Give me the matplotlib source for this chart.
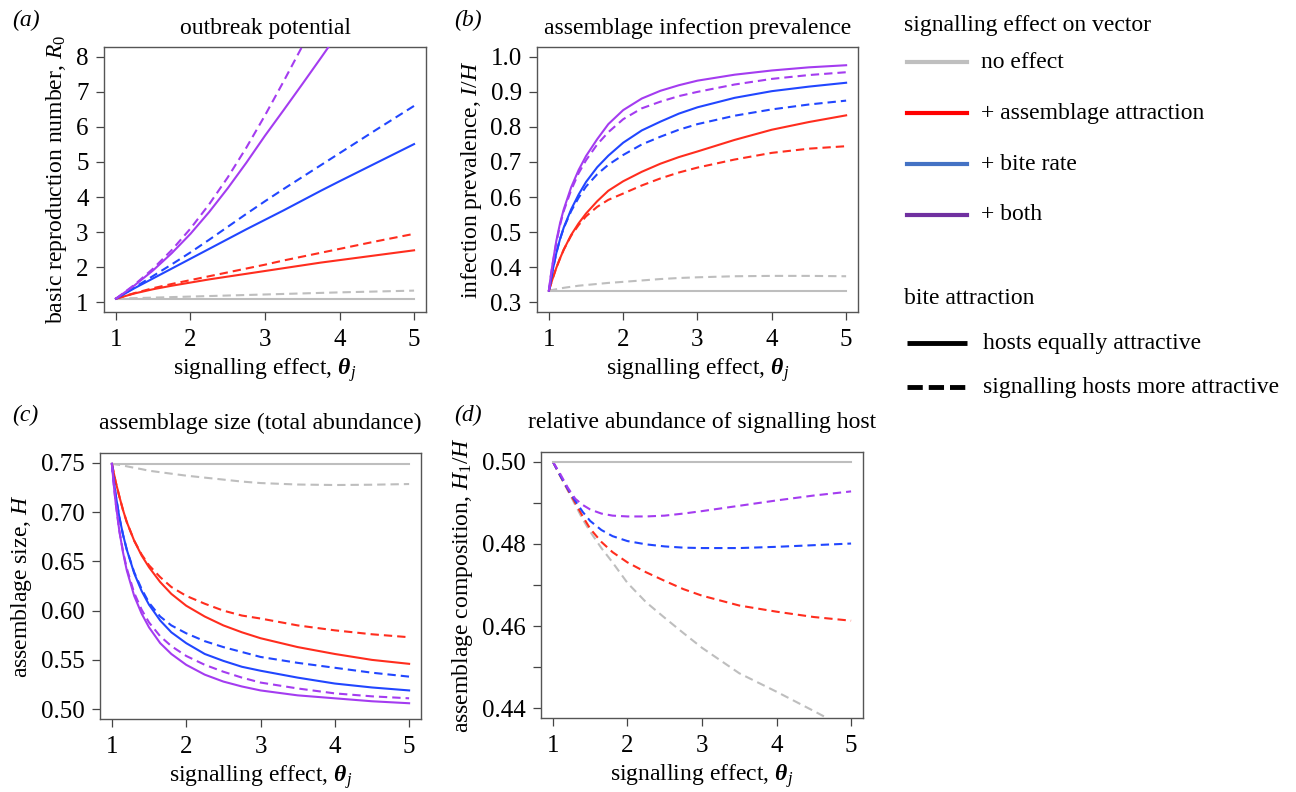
import matplotlib
matplotlib.use("Agg")
import matplotlib.pyplot as plt
from matplotlib.lines import Line2D

plt.rcParams['font.family'] = ['Liberation Serif', 'DejaVu Serif']
plt.rcParams['mathtext.fontset'] = 'custom'
plt.rcParams['mathtext.rm'] = 'Liberation Serif'
plt.rcParams['mathtext.it'] = 'Liberation Serif:italic'
plt.rcParams['mathtext.bf'] = 'Liberation Serif:bold:italic'
plt.rcParams['lines.scale_dashes'] = False

# ---- data ----
# (a) basic reproduction number R0
theta_a = [1, 1.25, 1.5, 1.75, 2, 2.25, 2.5, 2.75, 3, 3.25, 3.5, 3.75, 4, 4.5, 5]
r0_grey_solid = [1.1] * 15
r0_grey_dash = [1.1, 1.115, 1.13, 1.145, 1.16, 1.175, 1.19, 1.205, 1.22, 1.235,
                1.25, 1.265, 1.28, 1.305, 1.33]
r0_red_solid = [1.1, 1.25, 1.37, 1.47, 1.56, 1.65, 1.73, 1.81, 1.89, 1.97,
                2.05, 2.13, 2.2, 2.34, 2.48]
r0_red_dash = [1.1, 1.26, 1.4, 1.52, 1.63, 1.74, 1.85, 1.96, 2.07, 2.19,
               2.3, 2.41, 2.52, 2.74, 2.95]
r0_blue_solid = [1.1, 1.4, 1.68, 1.96, 2.24, 2.52, 2.8, 3.08, 3.35, 3.62,
                 3.9, 4.18, 4.45, 4.98, 5.51]
r0_blue_dash = [1.1, 1.42, 1.75, 2.08, 2.42, 2.78, 3.15, 3.52, 3.88, 4.23,
                4.57, 4.91, 5.25, 5.93, 6.6]
r0_purple_solid = [1.1, 1.48, 1.91, 2.4, 2.95, 3.57, 4.25, 4.98, 5.75, 6.48,
                   7.22, 7.97, 8.73, 10.3, 11.9]
r0_purple_dash = [1.1, 1.5, 1.96, 2.49, 3.1, 3.79, 4.56, 5.41, 6.33, 7.3,
                  8.3, 9.3, 10.3, 12.3, 14.3]

# (b) infection prevalence I/H
theta_b = [1, 1.025, 1.05, 1.1, 1.15, 1.2, 1.3, 1.4, 1.5, 1.65, 1.8, 2,
           2.25, 2.5, 2.75, 3, 3.5, 4, 4.5, 5]
ih_grey_solid = [0.333] * 20
ih_grey_dash = [0.333, 0.334, 0.335, 0.337, 0.339, 0.341, 0.344, 0.347, 0.349, 0.352,
                0.355, 0.358, 0.362, 0.366, 0.369, 0.371, 0.374, 0.375, 0.375, 0.374]
ih_red_solid = [0.333, 0.35, 0.367, 0.398, 0.425, 0.45, 0.492, 0.525, 0.553, 0.588,
                0.618, 0.645, 0.672, 0.695, 0.714, 0.73, 0.763, 0.792, 0.814, 0.833]
ih_red_dash = [0.333, 0.35, 0.367, 0.398, 0.425, 0.45, 0.49, 0.52, 0.545, 0.572,
               0.592, 0.61, 0.633, 0.653, 0.67, 0.684, 0.707, 0.726, 0.738, 0.745]
ih_blue_solid = [0.333, 0.36, 0.39, 0.44, 0.48, 0.513, 0.565, 0.607, 0.643, 0.685,
                 0.718, 0.755, 0.79, 0.815, 0.838, 0.856, 0.883, 0.902, 0.915, 0.926]
ih_blue_dash = [0.333, 0.36, 0.39, 0.44, 0.48, 0.512, 0.56, 0.598, 0.63, 0.665,
                0.692, 0.72, 0.75, 0.772, 0.792, 0.808, 0.832, 0.85, 0.864, 0.875]
ih_purple_solid = [0.333, 0.375, 0.41, 0.475, 0.525, 0.565, 0.628, 0.677, 0.717, 0.765,
                   0.808, 0.848, 0.881, 0.903, 0.919, 0.932, 0.949, 0.961, 0.97, 0.976]
ih_purple_dash = [0.333, 0.373, 0.407, 0.47, 0.52, 0.56, 0.62, 0.668, 0.705, 0.75,
                  0.785, 0.822, 0.853, 0.872, 0.888, 0.9, 0.921, 0.937, 0.948, 0.956]

# (c) assemblage size H
theta_c = theta_b
h_grey_solid = [0.749] * 20
h_grey_dash = [0.749, 0.7488, 0.7485, 0.748, 0.7472, 0.7465, 0.745, 0.7436, 0.742, 0.7405,
               0.739, 0.737, 0.735, 0.733, 0.731, 0.7295, 0.728, 0.7275, 0.7278, 0.7285]
h_red_solid = [0.749, 0.74, 0.731, 0.716, 0.702, 0.69, 0.671, 0.656, 0.644, 0.629,
               0.617, 0.605, 0.594, 0.585, 0.578, 0.572, 0.563, 0.556, 0.55, 0.546]
h_red_dash = [0.749, 0.74, 0.731, 0.716, 0.702, 0.69, 0.671, 0.657, 0.646, 0.634,
              0.624, 0.615, 0.607, 0.6, 0.595, 0.592, 0.585, 0.58, 0.576, 0.573]
h_blue_solid = [0.749, 0.732, 0.718, 0.695, 0.677, 0.662, 0.638, 0.62, 0.606, 0.59,
                0.578, 0.567, 0.556, 0.549, 0.543, 0.539, 0.532, 0.526, 0.522, 0.519]
h_blue_dash = [0.749, 0.732, 0.718, 0.695, 0.677, 0.662, 0.639, 0.622, 0.608, 0.594,
               0.585, 0.577, 0.569, 0.563, 0.558, 0.553, 0.547, 0.542, 0.537, 0.533]
h_purple_solid = [0.749, 0.728, 0.71, 0.681, 0.659, 0.641, 0.615, 0.597, 0.583, 0.567,
                  0.556, 0.545, 0.535, 0.528, 0.523, 0.519, 0.514, 0.511, 0.508, 0.506]
h_purple_dash = [0.749, 0.728, 0.71, 0.681, 0.66, 0.643, 0.618, 0.601, 0.588, 0.574,
                 0.564, 0.554, 0.545, 0.538, 0.532, 0.527, 0.521, 0.516, 0.513, 0.511]

# (d) relative abundance H1/H (solid lines all sit at 0.5)
theta_d = [1, 1.1, 1.2, 1.3, 1.4, 1.5, 1.65, 1.8, 2, 2.25, 2.5, 2.75, 3, 3.5, 4, 4.5, 5]
h1_solid = [0.5] * 17
h1_grey_dash = [0.5, 0.4965, 0.493, 0.4895, 0.486, 0.483, 0.479, 0.4755, 0.4705, 0.4658,
                0.462, 0.4583, 0.4547, 0.4485, 0.444, 0.4393, 0.4345]
h1_red_dash = [0.5, 0.4965, 0.4932, 0.49, 0.4867, 0.4837, 0.4805, 0.478, 0.4755, 0.4731,
               0.471, 0.469, 0.4674, 0.465, 0.4635, 0.4622, 0.4613]
h1_blue_dash = [0.5, 0.4966, 0.4934, 0.4905, 0.4878, 0.4856, 0.4834, 0.4819, 0.4807, 0.4799,
                0.4794, 0.4791, 0.479, 0.479, 0.4793, 0.4797, 0.4801]
h1_purple_dash = [0.5, 0.497, 0.4937, 0.491, 0.4895, 0.4884, 0.4874, 0.4869, 0.4867, 0.4867,
                  0.4869, 0.4874, 0.488, 0.4893, 0.4906, 0.4918, 0.4928]

legend_effects = ['no effect', '+ assemblage attraction', '+ bite rate', '+ both']
legend_bites = ['hosts equally attractive', 'signalling hosts more attractive']

GREY, RED, BLUE, PURPLE = '#BEBEBE', '#FF2D1E', '#2146FF', '#A43CF0'
LEG_COLS = ['#BFBFBF', '#FF0000', '#4472C4', '#7030A0']
DASH = (0, (6, 3.6))
LW = 1.5
FS = 17

fig = plt.figure(figsize=(12.96, 7.92), dpi=100)


def px_axes(left, top, right, bottom):
    W, H = 1296, 792
    return fig.add_axes([left / W, 1 - bottom / H, (right - left) / W, (bottom - top) / H])


def style(ax, ylim, yticks, ylabels, ylabel, title, tpad):
    ax.set_xlim(0.84, 5.16)
    ax.set_ylim(*ylim)
    ax.set_xticks([1, 2, 3, 4, 5])
    ax.set_yticks(yticks)
    ax.set_yticklabels(ylabels)
    ax.tick_params(direction='out', length=6, width=0.9, color='#444444',
                   labelsize=18, pad=5)
    ax.tick_params(axis='x', pad=6)
    for s in ax.spines.values():
        s.set_color('#555555')
        s.set_linewidth(1.0)
    ax.set_xlabel(r'signalling effect, $\mathbf{\theta}_j$', fontsize=FS, labelpad=4)
    ax.set_ylabel(ylabel, fontsize=FS, labelpad=5)
    ax.set_title(title, fontsize=FS, pad=tpad)


def draw(ax, x, series):
    for y, c, ls, z in series:
        ax.plot(x, y, color=c, lw=LW, linestyle=ls, zorder=z)


# (a)
ax = px_axes(104, 47, 426, 312)
draw(ax, theta_a, [
    (r0_grey_solid, GREY, '-', 2), (r0_grey_dash, GREY, DASH, 2),
    (r0_red_solid, RED, '-', 3), (r0_red_dash, RED, DASH, 3),
    (r0_blue_solid, BLUE, '-', 4), (r0_blue_dash, BLUE, DASH, 4),
    (r0_purple_solid, PURPLE, '-', 5), (r0_purple_dash, PURPLE, DASH, 5)])
style(ax, (0.72, 8.28), range(1, 9), [str(i) for i in range(1, 9)],
      r'basic reproduction number, $R_0$', 'outbreak potential', 9)

# (b)
ax = px_axes(537, 47, 858, 312)
draw(ax, theta_b, [
    (ih_grey_solid, GREY, '-', 2), (ih_grey_dash, GREY, DASH, 2),
    (ih_red_solid, RED, '-', 3), (ih_red_dash, RED, DASH, 3),
    (ih_blue_solid, BLUE, '-', 4), (ih_blue_dash, BLUE, DASH, 4),
    (ih_purple_solid, PURPLE, '-', 5), (ih_purple_dash, PURPLE, DASH, 5)])
yt = [0.3, 0.4, 0.5, 0.6, 0.7, 0.8, 0.9, 1.0]
style(ax, (0.272, 1.028), yt, ['%.1f' % v for v in yt],
      r'infection prevalence, $I/H$', 'assemblage infection prevalence', 9)

# (c)
ax = px_axes(100, 453, 421, 719)
draw(ax, theta_c, [
    (h_grey_solid, GREY, '-', 2), (h_grey_dash, GREY, DASH, 2),
    (h_red_solid, RED, '-', 3), (h_red_dash, RED, DASH, 3),
    (h_blue_solid, BLUE, '-', 4), (h_blue_dash, BLUE, DASH, 4),
    (h_purple_solid, PURPLE, '-', 5), (h_purple_dash, PURPLE, DASH, 5)])
yt = [0.50, 0.55, 0.60, 0.65, 0.70, 0.75]
style(ax, (0.49, 0.76), yt, ['%.2f' % v for v in yt],
      r'assemblage size, $H$', 'assemblage size (total abundance)', 17)

# (d)
ax = px_axes(541, 452, 863, 718)
draw(ax, theta_d, [
    (h1_solid, GREY, '-', 6), (h1_grey_dash, GREY, DASH, 3),
    (h1_red_dash, RED, DASH, 4), (h1_blue_dash, BLUE, DASH, 5),
    (h1_purple_dash, PURPLE, DASH, 5)])
yt = [0.44, 0.45, 0.46, 0.47, 0.48, 0.49, 0.50]
style(ax, (0.4376, 0.5024), yt, ['%.2f' % v if i % 2 == 0 else '' for i, v in enumerate(yt)],
      r'assemblage composition, $H_1/H$', 'relative abundance of signalling host', 17)

# overlay in pixel coordinates for panel tags and the legend
lg = fig.add_axes([0, 0, 1, 1], facecolor='none')
lg.set_xlim(0, 1296)
lg.set_ylim(792, 0)
lg.axis('off')
for tag, tx, ty in [('(a)', 12, 20), ('(b)', 454, 20), ('(c)', 12, 415), ('(d)', 454, 415)]:
    lg.text(tx, ty, tag, fontsize=FS, fontstyle='italic', va='center', ha='left')

lg.text(904, 26, 'signalling effect on vector', fontsize=FS, va='center', ha='left')
for i, (lab, col) in enumerate(zip(legend_effects, LEG_COLS)):
    yy = 62 + 51 * i
    lg.add_line(Line2D([907, 967], [yy, yy], color=col, lw=3))
    lg.text(981, yy, lab, fontsize=FS, va='center', ha='left')
lg.text(904, 298, 'bite attraction', fontsize=FS, va='center', ha='left')
lg.add_line(Line2D([907, 967], [343, 343], color='black', lw=3.5, solid_capstyle='butt'))
lg.add_line(Line2D([907, 967], [387, 387], color='black', lw=3.5,
                   linestyle=(0, (11, 4.3)), dash_capstyle='butt'))
lg.text(983, 343, legend_bites[0], fontsize=FS, va='center', ha='left')
lg.text(983, 387, legend_bites[1], fontsize=FS, va='center', ha='left')

fig.savefig('out.png', dpi=100)
